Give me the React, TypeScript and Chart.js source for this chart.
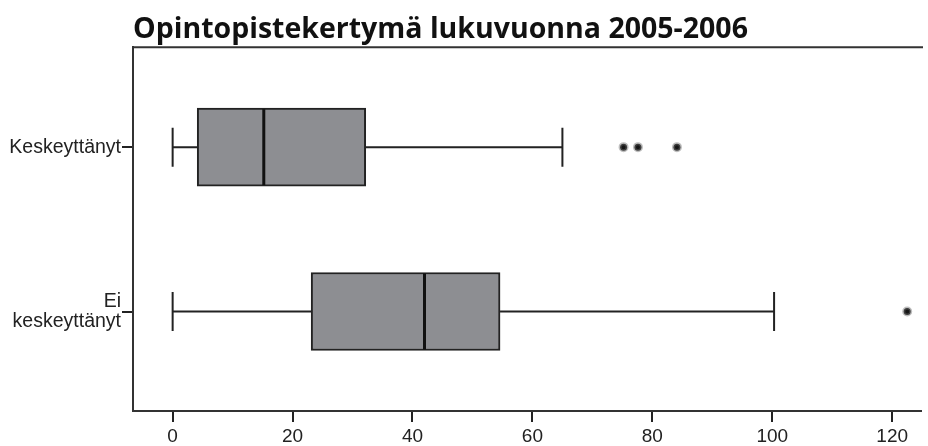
import React, { useEffect, useRef } from "react";
import { Chart, registerables } from "chart.js";

Chart.register(...registerables);

const titleText = "Opintopistekertymä lukuvuonna 2005-2006";
const categories: (string | string[])[] = ["Keskeyttänyt", ["Ei", "keskeyttänyt"]];
const catPos = [1, 2];
const whiskerLow = [0, 0];
const q1 = [4.1, 23.1];
const median = [15.2, 42.0];
const q3 = [32.2, 54.6];
const whiskerHigh = [65.0, 100.3];
const outliersKesk = [75.2, 77.6, 84.1];
const outliersEi = [122.5];
const xTicks = [0, 20, 40, 60, 80, 100, 120];

const boxPlugin = {
  id: "boxExtras",
  beforeDatasetsDraw(chart: any) {
    const { ctx, scales } = chart;
    const xs = scales.x;
    const ys = scales.y;
    ctx.save();
    ctx.strokeStyle = "#222";
    ctx.lineWidth = 2;
    for (let i = 0; i < catPos.length; i++) {
      const y = ys.getPixelForValue(catPos[i]);
      const capH = 39;
      const xl = xs.getPixelForValue(whiskerLow[i]);
      const xq1 = xs.getPixelForValue(q1[i]);
      const xq3 = xs.getPixelForValue(q3[i]);
      const xh = xs.getPixelForValue(whiskerHigh[i]);
      ctx.beginPath();
      ctx.moveTo(xl, y);
      ctx.lineTo(xq1, y);
      ctx.moveTo(xq3, y);
      ctx.lineTo(xh, y);
      ctx.moveTo(xl, y - capH / 2);
      ctx.lineTo(xl, y + capH / 2);
      ctx.moveTo(xh, y - capH / 2);
      ctx.lineTo(xh, y + capH / 2);
      ctx.stroke();
    }
    ctx.restore();
  },
  afterDatasetsDraw(chart: any) {
    const { ctx, scales, chartArea } = chart;
    const xs = scales.x;
    const ys = scales.y;
    ctx.save();
    ctx.strokeStyle = "#111";
    ctx.lineWidth = 3;
    for (let i = 0; i < catPos.length; i++) {
      const y = ys.getPixelForValue(catPos[i]);
      const xm = xs.getPixelForValue(median[i]);
      ctx.beginPath();
      ctx.moveTo(xm, y - 38);
      ctx.lineTo(xm, y + 38);
      ctx.stroke();
    }
    ctx.strokeStyle = "#333";
    ctx.lineWidth = 2;
    ctx.beginPath();
    ctx.moveTo(chartArea.left, chartArea.top);
    ctx.lineTo(chartArea.right + 2, chartArea.top);
    ctx.stroke();
    ctx.restore();
  },
};

export default function App() {
  const ref = useRef<HTMLCanvasElement | null>(null);
  useEffect(() => {
    if (!ref.current) return;
    const chart = new Chart(ref.current, {
      type: "bar",
      data: {
        datasets: [
          {
            type: "bar",
            indexAxis: "y",
            data: catPos.map((p, i) => ({ x: [q1[i], q3[i]], y: p })) as any,
            backgroundColor: "#8d8e92",
            borderColor: "#222",
            borderWidth: 2,
            borderSkipped: false,
            barThickness: 78,
            xAxisID: "x",
            yAxisID: "y",
          } as any,
          {
            type: "scatter",
            data: [
              ...outliersKesk.map((v) => ({ x: v, y: catPos[0] })),
              ...outliersEi.map((v) => ({ x: v, y: catPos[1] })),
            ],
            pointRadius: 3.5,
            backgroundColor: "#151515",
            borderColor: "rgba(110,110,110,0.45)",
            borderWidth: 3,
            xAxisID: "x",
            yAxisID: "y",
          } as any,
        ],
      },
      options: {
        responsive: false,
        animation: false,
        layout: { padding: { left: 0, right: 0, top: 0, bottom: 0 } },
        plugins: {
          legend: { display: false },
          tooltip: { enabled: false },
          title: {
            display: true,
            text: titleText,
            align: "start",
            fullSize: false,
            color: "#111",
            font: { family: "Open Sans", weight: "bold", size: 28.5, lineHeight: 1.2 },
            padding: { top: 13, bottom: 0 },
          },
        },
        scales: {
          x: {
            type: "linear",
            position: "bottom",
            offset: false,
            min: -6.61,
            max: 124.8,
            afterBuildTicks: (axis: any) => {
              axis.ticks = xTicks.map((v) => ({ value: v }));
            },
            afterFit: (axis: any) => {
              axis.height = 35;
            },
            grid: {
              offset: false,
              drawOnChartArea: false,
              drawTicks: true,
              tickLength: 11,
              color: "#222",
              lineWidth: 2,
            },
            border: { display: true, color: "#333", width: 2 },
            ticks: {
              padding: 3,
              color: "#222",
              font: { family: "Liberation Sans", size: 19 },
              maxRotation: 0,
            },
          },
          y: {
            type: "linear",
            position: "left",
            offset: false,
            reverse: true,
            min: 0.392,
            max: 2.605,
            afterBuildTicks: (axis: any) => {
              axis.ticks = catPos.map((v) => ({ value: v }));
            },
            afterFit: (axis: any) => {
              axis.width = 133;
            },
            grid: {
              offset: false,
              drawOnChartArea: false,
              drawTicks: true,
              tickLength: 11,
              color: "#222",
              lineWidth: 2,
            },
            border: { display: true, color: "#333", width: 2 },
            ticks: {
              padding: 1,
              color: "#222",
              font: { family: "Liberation Sans", size: 19.5, lineHeight: 1.05 },
              callback: (v: any) => {
                const idx = catPos.indexOf(Number(v));
                return idx >= 0 ? (categories[idx] as any) : "";
              },
            },
          },
        },
      },
      plugins: [boxPlugin],
    });
    return () => chart.destroy();
  }, []);
  return (
    <div
      style={{
        position: "fixed",
        top: 0,
        left: 0,
        width: 928,
        height: 446,
        background: "#fff",
        overflow: "hidden",
      }}
    >
      <canvas ref={ref} width={928} height={446} style={{ display: "block", width: 928, height: 446 }} />
    </div>
  );
}
